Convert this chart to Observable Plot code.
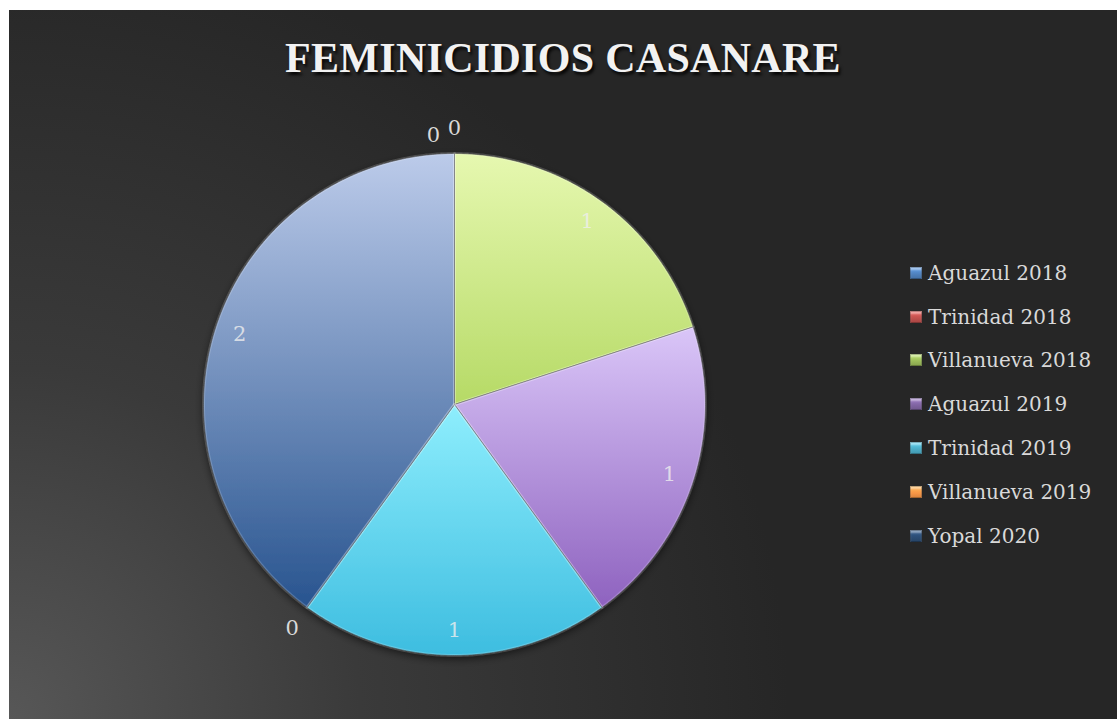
<!DOCTYPE html>
<html>
<head>
<meta charset="utf-8">
<script src="https://cdn.jsdelivr.net/npm/d3@7"></script>
<script src="https://cdn.jsdelivr.net/npm/@observablehq/plot@0.6"></script>
<style>
  html, body { margin: 0; padding: 0; background: #ffffff; }
  #wrap { position: absolute; left: 9px; top: 10px; width: 1108px; height: 709px; overflow: hidden;
    background: radial-gradient(circle 780px at 0% 100%, #575757 0%, #3a3a3a 45%, #262626 100%); }
  #title { position: absolute; left: 0; width: 1108px; top: 27px; text-align: center;
    font-family: "Liberation Serif", serif; font-weight: bold; font-size: 42px; line-height: 42px;
    color: #f2f2f2; letter-spacing: 0.3px; text-shadow: 2px 3px 3px rgba(0,0,0,0.85); }
  #legend { position: absolute; left: 901px; top: 241px; font-family: "DejaVu Serif", serif; font-size: 20px; color: #d9d9d9; }
  .row { height: 43.8px; display: flex; align-items: center; }
  .sw { width: 12px; height: 12px; margin-right: 6px; box-shadow: inset 0 0 0 1px rgba(0,0,0,0.25), inset 0 3px 2px rgba(255,255,255,0.45); }
  #chart { position: absolute; left: 0; top: 0; }
</style>
</head>
<body>
<div id="wrap">
  <div id="chart"></div>
  <div id="title">FEMINICIDIOS CASANARE</div>
  <div id="legend"></div>
</div>
<script>
// ---- data ----
const names = ["Aguazul 2018", "Trinidad 2018", "Villanueva 2018", "Aguazul 2019", "Trinidad 2019", "Villanueva 2019", "Yopal 2020"];
const values = [0, 0, 1, 1, 1, 0, 2];
const chartTitle = "FEMINICIDIOS CASANARE";

// ---- styles ----
const baseColors = ["#4f81bd", "#c0504d", "#9bbb59", "#8064a2", "#4bacc6", "#f79646", "#2c4d75"];
const topColors = ["#a7c0e0", "#e6a8a6", "#e6f8b0", "#dac6f8", "#8eeefd", "#fbcaa2", "#bccbea"];
const bottomColors = ["#3d6ca8", "#a23e3b", "#b6da66", "#8e62bf", "#3dbde0", "#e07a2c", "#28548f"];

const table = names.map((name, i) => ({name, value: values[i], i}));
const arcs = d3.pie().sort(null).value(d => d.value).startAngle(0).endAngle(2 * Math.PI)(table);

// slice outlines (unit circle, angle measured clockwise from 12 o'clock)
const pts = [];
for (const a of arcs) {
  if (a.endAngle - a.startAngle <= 0) continue;
  const n = Math.max(2, Math.ceil((a.endAngle - a.startAngle) / (Math.PI / 360)));
  pts.push({name: a.data.name, x: 0, y: 0});
  for (let k = 0; k <= n; k++) {
    const t = a.startAngle + (a.endAngle - a.startAngle) * k / n;
    pts.push({name: a.data.name, x: Math.sin(t), y: Math.cos(t)});
  }
  pts.push({name: a.data.name, x: 0, y: 0});
}

// labels: inside for non-zero slices, just outside the rim for zero slices
const seenAngles = new Map();
const labels = arcs.map(a => {
  const mid = (a.startAngle + a.endAngle) / 2;
  const inside = a.data.value > 0;
  const r = inside ? 0.9 : 1.1;
  let shifted = false;
  if (!inside) {
    const key = mid.toFixed(6);
    const c = seenAngles.get(key) || 0;
    seenAngles.set(key, c + 1);
    shifted = c === 0 && arcs.some(b => b !== a && b.data.value === 0 && ((b.startAngle + b.endAngle) / 2).toFixed(6) === key);
  }
  return {name: a.data.name, text: String(a.data.value), x: r * Math.sin(mid), y: r * Math.cos(mid), inside, shifted};
});

const cx = 445, cy = 394, R = 251;

const defsMark = () => {
  const defs = d3.create("svg:defs");
  names.forEach((n, i) => {
    const g = defs.append("linearGradient").attr("id", "grad" + i)
      .attr("x1", 0).attr("y1", 0).attr("x2", 0).attr("y2", 1);
    g.append("stop").attr("offset", "0%").attr("stop-color", topColors[i]);
    g.append("stop").attr("offset", "100%").attr("stop-color", bottomColors[i]);
  });
  const f = defs.append("filter").attr("id", "shadow").attr("x", "-20%").attr("y", "-20%").attr("width", "140%").attr("height", "140%");
  f.append("feDropShadow").attr("dx", 0).attr("dy", 3).attr("stdDeviation", 4).attr("flood-color", "#000").attr("flood-opacity", 0.6);
  return defs.node();
};

const plot = Plot.plot({
  width: 1108,
  height: 709,
  margin: 0,
  style: {background: "transparent", overflow: "visible"},
  x: {domain: [-1, 1], range: [cx - R, cx + R], axis: null},
  y: {domain: [-1, 1], range: [cy + R, cy - R], axis: null},
  color: {type: "ordinal", domain: names, range: names.map((_, i) => `url(#grad${i})`)},
  marks: [
    defsMark,
    Plot.line(pts, {x: "x", y: "y", z: "name", fill: "name", stroke: "#1c1c1c", strokeOpacity: 0.55, strokeWidth: 1, curve: "linear"}),
    Plot.line(pts, {x: "x", y: "y", z: "name", stroke: "#ffffff", strokeOpacity: 0.18, strokeWidth: 3, curve: "linear"}),
    Plot.text(labels.filter(d => d.inside), {x: "x", y: "y", text: "text", fill: "#eeeeee", fillOpacity: 0.8, fontSize: 21, fontFamily: "DejaVu Serif, serif"}),
    Plot.text(labels.filter(d => !d.inside && !d.shifted), {x: "x", y: "y", text: "text", fill: "#d9d9d9", fontSize: 21, fontFamily: "DejaVu Serif, serif"}),
    Plot.text(labels.filter(d => !d.inside && d.shifted), {x: "x", y: "y", text: "text", dx: -21, dy: 7, fill: "#d9d9d9", fontSize: 21, fontFamily: "DejaVu Serif, serif"})
  ]
});
document.getElementById("chart").appendChild(plot);

// drop shadow on slice group
const gs = plot.querySelectorAll("g[aria-label='line']");
if (gs.length) gs[0].setAttribute("filter", "url(#shadow)");

// legend
const leg = d3.select("#legend");
names.forEach((n, i) => {
  const row = leg.append("div").attr("class", "row");
  row.append("div").attr("class", "sw")
    .style("background", `linear-gradient(to bottom, ${d3.color(baseColors[i]).brighter(0.6)} 0%, ${baseColors[i]} 60%, ${d3.color(baseColors[i]).darker(0.4)} 100%)`);
  row.append("span").text(n);
});
document.getElementById("title").textContent = chartTitle;
</script>
</body>
</html>
